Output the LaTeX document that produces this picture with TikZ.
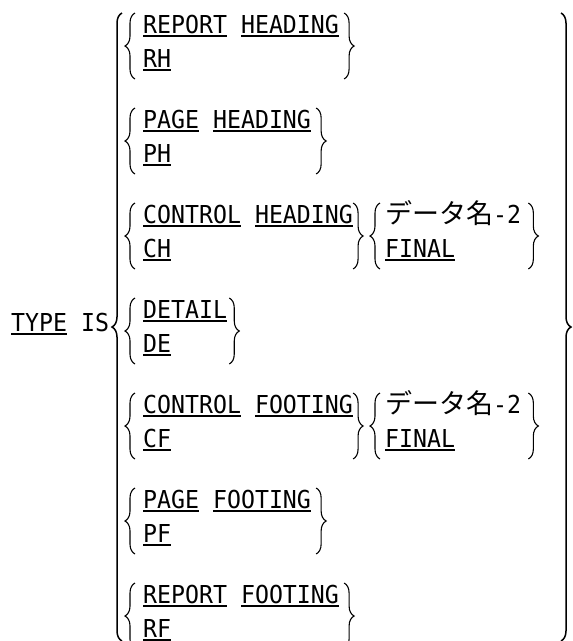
\documentclass[tikz,border=0pt]{standalone}
\usepackage{fontspec}
\newfontfamily\cobolfont[FakeStretch=0.94]{DejaVu Sans Mono}
\newfontfamily\jpfont{Noto Sans CJK JP}
\usetikzlibrary{decorations.pathreplacing}
% underlined keyword
\newcommand\kw[1]{\setbox0\hbox{#1}\rlap{\rule[-3.6pt]{\wd0}{1.8pt}}\box0\relax}

\begin{document}
\begin{tikzpicture}[x=1pt, y=-1pt,
    txt/.style={font=\cobolfont\fontsize{24.7}{24.7}\selectfont, inner sep=0pt, anchor=base west},
    brc/.style={decorate, decoration={brace, amplitude=10pt}, line width=1.1pt},
  ]
  \useasboundingbox (0,0) rectangle (573,641);

  % outer braces
  \node[txt] (type) at (11,331) {\kw{TYPE} IS};
  \draw[brc, line width=1.5pt] (122,641) -- (122,13);
  \draw[brc, line width=1.5pt] (561,13) -- (561,641);

  \foreach \k/\la/\lb/\gap in {1/{\kw{REPORT} \kw{HEADING}}/\kw{RH}/5,
      2/{\kw{PAGE} \kw{HEADING}}/\kw{PH}/5,
      3/{\kw{CONTROL} \kw{HEADING}}/\kw{CH}/0,
      4/{\kw{DETAIL}}/\kw{DE}/2,
      5/{\kw{CONTROL} \kw{FOOTING}}/\kw{CF}/0,
      6/{\kw{PAGE} \kw{FOOTING}}/\kw{PF}/5,
      7/{\kw{REPORT} \kw{FOOTING}}/\kw{RF}/5} {
    \pgfmathsetmacro\t{13+95*(\k-1)}
    \node[txt] (full\k) at (143,\t+20) {\la};
    \node[txt] (abbr\k) at (143,\t+54) {\lb};
    \coordinate (top\k) at (0,\t);
    \coordinate (bot\k) at (0,\t+66);
    \coordinate (r\k) at ([xshift=\gap pt]full\k.east);
    \draw[brc] (135,\t+66) -- (135,\t);
    \draw[brc] (r\k |- top\k) -- (r\k |- bot\k);
  }

  % data name or FINAL
  \foreach \k in {3,5} {
    \pgfmathsetmacro\t{13+95*(\k-1)}
    \node[txt] (data\k) at (385,\t+20) {{\jpfont\fontsize{27}{27}\selectfont データ名}-2};
    \node[txt] (final\k) at (385,\t+54) {\kw{FINAL}};
    \coordinate (s\k) at ([xshift=-5pt]data\k.west);
    \coordinate (e\k) at ([xshift=7pt]data\k.east);
    \draw[brc] (s\k |- bot\k) -- (s\k |- top\k);
    \draw[brc] (e\k |- top\k) -- (e\k |- bot\k);
  }
\end{tikzpicture}
\end{document}
